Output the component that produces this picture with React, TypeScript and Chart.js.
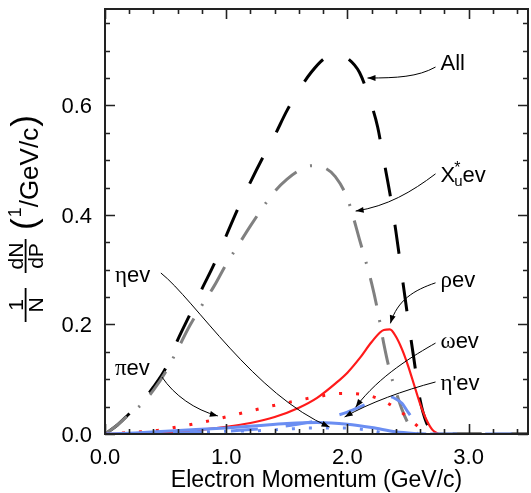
import React, { useEffect, useRef } from "react";
import { Chart, registerables } from "chart.js";

Chart.register(...registerables);

// ---------------- data ----------------
const allX = [0, 0.1, 0.2, 0.3, 0.4, 0.5, 0.6, 0.7, 0.8, 0.9, 1.0, 1.1, 1.2, 1.3, 1.4, 1.5, 1.6, 1.7, 1.8, 1.9, 2.0, 2.1, 2.2, 2.25, 2.3, 2.35, 2.4, 2.45, 2.5, 2.55, 2.6, 2.65, 2.7, 2.75, 3.5];
const allY = [0, 0.016, 0.037, 0.058, 0.086, 0.12, 0.172, 0.218, 0.265, 0.31, 0.362, 0.413, 0.46, 0.504, 0.545, 0.59, 0.628, 0.66, 0.684, 0.695, 0.686, 0.66, 0.6, 0.56, 0.5, 0.44, 0.37, 0.29, 0.21, 0.135, 0.062, 0.022, 0.005, 0, 0];

const xuX = [0, 0.1, 0.2, 0.3, 0.4, 0.5, 0.6, 0.7, 0.8, 0.9, 1.0, 1.1, 1.2, 1.3, 1.4, 1.5, 1.6, 1.7, 1.8, 1.9, 2.0, 2.1, 2.2, 2.25, 2.3, 2.35, 2.4, 2.45, 2.5, 2.55, 2.6, 3.5];
const xuY = [0, 0.016, 0.036, 0.054, 0.08, 0.113, 0.155, 0.198, 0.235, 0.27, 0.31, 0.345, 0.38, 0.413, 0.443, 0.465, 0.481, 0.49, 0.487, 0.47, 0.43, 0.355, 0.275, 0.225, 0.165, 0.115, 0.078, 0.045, 0.02, 0.005, 0, 0];

const rhoX = [0, 0.5, 0.8, 1.0, 1.2, 1.4, 1.6, 1.75, 1.9, 2.0, 2.1, 2.2, 2.3, 2.35, 2.4, 2.45, 2.5, 2.55, 2.6, 2.65, 2.7, 2.75];
const rhoY = [0, 0.003, 0.008, 0.013, 0.02, 0.031, 0.048, 0.066, 0.092, 0.112, 0.138, 0.168, 0.19, 0.191, 0.178, 0.155, 0.125, 0.09, 0.055, 0.027, 0.008, 0];

const piX = [0, 0.15, 0.3, 0.45, 0.6, 0.75, 0.9, 1.05, 1.2, 1.35, 1.5, 1.65, 1.8, 1.95, 2.1, 2.25, 2.4, 2.5, 2.6, 2.65];
const piY = [0, 0.002, 0.004, 0.007, 0.013, 0.019, 0.026, 0.034, 0.042, 0.05, 0.057, 0.064, 0.07, 0.074, 0.073, 0.065, 0.047, 0.03, 0.01, 0];

const etaX = [0, 0.25, 0.5, 0.75, 1.0, 1.25, 1.5, 1.75, 2.0, 2.2, 2.4, 2.55, 2.65];
const etaY = [0, 0.002, 0.005, 0.008, 0.011, 0.015, 0.019, 0.021, 0.018, 0.012, 0.004, 0.001, 0];

const omegaX = [0, 0.5, 1.0, 1.2, 1.4, 1.6, 1.8, 1.9, 2.0, 2.1, 2.2, 2.3, 2.35, 2.4, 2.45, 2.5, 2.55, 2.6, 2.65, 2.7, 3.5];
const omegaY = [0, 0.001, 0.005, 0.008, 0.012, 0.018, 0.027, 0.033, 0.04, 0.049, 0.059, 0.067, 0.068, 0.064, 0.056, 0.04, 0.025, 0.012, 0.003, 0, 0];

const etapX = [0, 0.5, 1.0, 1.25, 1.5, 1.7, 1.85, 2.0, 2.1, 2.2, 2.3, 2.35];
const etapY = [0, 0.002, 0.005, 0.006, 0.009, 0.011, 0.011, 0.011, 0.009, 0.006, 0.002, 0];

const xTicks = [0, 1, 2, 3];
const yTicks = [0, 0.2, 0.4, 0.6];
const xRange = [0, 3.49];
const yRange = [0, 0.776];
const xMinorStep = 0.2;
const yMinorStep = 0.05;

// annotation anchors (data units): label anchor + arrow bezier [start, cp1, cp2, end]
const annotations = [
  { key: "All", at: [2.768, 0.665], arrow: [[2.727, 0.67], [2.58, 0.652], [2.41, 0.65], [2.166, 0.65]] },
  { key: "Xu", at: [2.768, 0.46], arrow: [[2.727, 0.475], [2.53, 0.442], [2.33, 0.416], [2.068, 0.407]] },
  { key: "eta", at: [0.082, 0.278], arrow: [[0.461, 0.294], [0.74, 0.245], [1.236, 0.071], [1.853, 0.0128]] },
  { key: "pi", at: [0.082, 0.108], arrow: [[0.47, 0.104], [0.57, 0.071], [0.74, 0.044], [0.931, 0.033]] },
  { key: "rho", at: [2.768, 0.268], arrow: [[2.727, 0.276], [2.553, 0.263], [2.413, 0.245], [2.355, 0.202]] },
  { key: "omega", at: [2.768, 0.157], arrow: [[2.727, 0.166], [2.553, 0.144], [2.265, 0.107], [2.068, 0.049]] },
  { key: "etap", at: [2.768, 0.08], arrow: [[2.727, 0.095], [2.47, 0.08], [2.18, 0.057], [1.977, 0.031]] },
];

const SANS = '"Liberation Sans", Arial, Helvetica, sans-serif';
const SERIF = '"Liberation Serif", "DejaVu Serif", serif';
const BLUE = "#6b8ef2";
const RED = "#ff1a1a";
const GREY = "#808080";
const FRAME = "#222222";

function pts(xs: number[], ys: number[]) {
  return xs.map((x, i) => ({ x, y: ys[i] }));
}

type Seg = { t: string; font: string; dy?: number };

function drawSegs(ctx: CanvasRenderingContext2D, segs: Seg[], x: number, y: number) {
  let cx = x;
  for (const s of segs) {
    ctx.font = s.font;
    ctx.fillText(s.t, cx, y + (s.dy || 0));
    cx += ctx.measureText(s.t).width;
  }
}

const labelSegs: Record<string, Seg[]> = {
  All: [{ t: "All", font: `22px ${SANS}` }],
  eta: [{ t: "η", font: `23px ${SERIF}` }, { t: "ev", font: `22px ${SANS}` }],
  pi: [{ t: "π", font: `23px ${SERIF}` }, { t: "ev", font: `22px ${SANS}` }],
  rho: [{ t: "ρ", font: `23px ${SERIF}` }, { t: "ev", font: `22px ${SANS}` }],
  omega: [{ t: "ω", font: `23px ${SERIF}` }, { t: "ev", font: `22px ${SANS}` }],
  etap: [{ t: "η", font: `23px ${SERIF}` }, { t: "'", font: `20px ${SANS}` }, { t: "ev", font: `22px ${SANS}` }],
};

const framePlugin = {
  id: "framePlugin",
  afterDatasetsDraw(chart: any) {
    const ctx: CanvasRenderingContext2D = chart.ctx;
    const xs = chart.scales.x;
    const ys = chart.scales.y;
    const { left, right, top, bottom } = chart.chartArea;
    const px = (v: number) => xs.getPixelForValue(v);
    const py = (v: number) => ys.getPixelForValue(v);
    ctx.save();

    // ticks
    ctx.strokeStyle = FRAME;
    ctx.lineWidth = 1.6;
    const nX = Math.round((xRange[1] - xRange[0]) / xMinorStep);
    for (let i = 0; i <= nX; i++) {
      const v = xRange[0] + i * xMinorStep;
      if (v > xRange[1] + 1e-9) break;
      const major = xTicks.some((t) => Math.abs(t - v) < 1e-6);
      const len = major ? 10 : 5;
      const p = Math.round(px(v)) + 0.5;
      ctx.beginPath();
      ctx.moveTo(p, bottom);
      ctx.lineTo(p, bottom - len);
      ctx.moveTo(p, top);
      ctx.lineTo(p, top + len);
      ctx.stroke();
    }
    const nY = Math.round((yRange[1] - yRange[0]) / yMinorStep);
    for (let i = 0; i <= nY; i++) {
      const v = yRange[0] + i * yMinorStep;
      if (v > yRange[1] + 1e-9) break;
      const major = yTicks.some((t) => Math.abs(t - v) < 1e-6);
      const len = major ? 10 : 5;
      const p = Math.round(py(v)) + 0.5;
      ctx.beginPath();
      ctx.moveTo(left, p);
      ctx.lineTo(left + len, p);
      ctx.moveTo(right, p);
      ctx.lineTo(right - len, p);
      ctx.stroke();
    }
    // frame
    ctx.lineWidth = 2;
    ctx.strokeRect(left, top, right - left, bottom - top);

    // tick labels (from the Chart.js scale ticks)
    ctx.fillStyle = "#000";
    ctx.font = `22px ${SANS}`;
    ctx.textBaseline = "alphabetic";
    ctx.textAlign = "center";
    for (const t of xs.ticks) {
      ctx.fillText(Number(t.value).toFixed(1), px(t.value), 464);
    }
    ctx.textAlign = "right";
    for (const t of ys.ticks) {
      ctx.fillText(Number(t.value).toFixed(1), left - 13, py(t.value) + 8);
    }

    // arrows
    ctx.strokeStyle = "#000";
    ctx.fillStyle = "#000";
    ctx.lineWidth = 1;
    for (const a of annotations) {
      const [p0, p1, p2, p3] = a.arrow.map(([x, y]) => [px(x), py(y)]);
      ctx.beginPath();
      ctx.moveTo(p0[0], p0[1]);
      ctx.bezierCurveTo(p1[0], p1[1], p2[0], p2[1], p3[0], p3[1]);
      ctx.stroke();
      const ang = Math.atan2(p3[1] - p2[1], p3[0] - p2[0]);
      const L = 8, Wd = 3;
      ctx.beginPath();
      ctx.moveTo(p3[0], p3[1]);
      ctx.lineTo(p3[0] - L * Math.cos(ang) + Wd * Math.sin(ang), p3[1] - L * Math.sin(ang) - Wd * Math.cos(ang));
      ctx.lineTo(p3[0] - L * Math.cos(ang) - Wd * Math.sin(ang), p3[1] - L * Math.sin(ang) + Wd * Math.cos(ang));
      ctx.closePath();
      ctx.fill();
    }

    // labels
    ctx.textAlign = "left";
    ctx.textBaseline = "alphabetic";
    ctx.fillStyle = "#000";
    for (const a of annotations) {
      const x = px(a.at[0]);
      const y = py(a.at[1]);
      if (a.key === "Xu") {
        ctx.font = `22px ${SANS}`;
        ctx.fillText("X", x, y);
        const wX = ctx.measureText("X").width;
        ctx.font = `16px ${SANS}`;
        ctx.fillText("*", x + wX - 1, y - 9);
        ctx.font = `15px ${SANS}`;
        ctx.fillText("u", x + wX - 1, y + 4);
        const wu = ctx.measureText("u").width;
        ctx.font = `22px ${SANS}`;
        ctx.fillText("ev", x + wX - 1 + wu, y);
      } else {
        drawSegs(ctx, labelSegs[a.key], x, y);
      }
    }

    // x axis title
    ctx.font = `23px ${SANS}`;
    ctx.textAlign = "center";
    ctx.fillText("Electron Momentum (GeV/c)", (left + right) / 2, 487);

    // y axis title (rotated, reads bottom -> top)
    ctx.save();
    ctx.rotate(-Math.PI / 2);
    const T = (s: string, sx: number, sy: number, font: string, align: CanvasTextAlign = "center") => {
      ctx.font = font;
      ctx.textAlign = align;
      ctx.fillText(s, -sy, sx);
      return ctx.measureText(s).width;
    };
    const fr = (num: string, den: string, cy: number, half: number) => {
      T(num, 23, cy, `21px ${SANS}`);
      T(den, 43, cy, `21px ${SANS}`);
      ctx.fillRect(-(cy + half), 24.7, 2 * half, 1.8);
    };
    fr("1", "N", 305, 17);
    fr("dN", "dP", 256, 17);
    // ( 1/GeV/c )
    let s = 230;
    s -= T("(", 36, s, `35px ${SANS}`, "left") + 1;
    s -= T("1", 21, s, `18px ${SANS}`, "left");
    s -= T("/GeV/c", 38, s, `26px ${SANS}`, "left") + 1;
    T(")", 36, s, `35px ${SANS}`, "left");
    ctx.restore();

    ctx.restore();
  },
};

export default function App() {
  const ref = useRef<HTMLCanvasElement | null>(null);
  useEffect(() => {
    if (!ref.current) return;
    const common = { pointRadius: 0, fill: false, cubicInterpolationMode: "monotone" as const, borderCapStyle: "butt" as const };
    const chart = new Chart(ref.current, {
      type: "line",
      data: {
        datasets: [
          { label: "η' e ν", data: pts(etapX, etapY), borderColor: BLUE, borderWidth: 3, borderDash: [3, 14], order: 1, ...common },
          { label: "ω e ν", data: pts(omegaX, omegaY), borderColor: BLUE, borderWidth: 3, borderDash: [27, 28], borderDashOffset: -16, order: 2, ...common },
          { label: "η e ν", data: pts(etaX, etaY), borderColor: BLUE, borderWidth: 3, order: 3, ...common },
          { label: "ρ e ν", data: pts(rhoX, rhoY), borderColor: RED, borderWidth: 2.2, order: 4, ...common },
          { label: "π e ν", data: pts(piX, piY), borderColor: RED, borderWidth: 3, borderDash: [3, 14], order: 5, ...common },
          { label: "X_u* e ν", data: pts(xuX, xuY), borderColor: GREY, borderWidth: 3, borderDash: [28, 15, 2, 15], order: 6, ...common },
          { label: "All", data: pts(allX, allY), borderColor: "#000", borderWidth: 3, borderDash: [29, 29], borderDashOffset: 55, order: 7, ...common },
        ],
      },
      options: {
        responsive: false,
        animation: false,
        layout: { padding: { top: 9, right: 3, left: 0, bottom: 0 } },
        plugins: { legend: { display: false }, tooltip: { enabled: false }, title: { display: false } },
        scales: {
          x: {
            type: "linear",
            min: xRange[0],
            max: xRange[1],
            afterBuildTicks: (s: any) => {
              s.ticks = xTicks.map((v) => ({ value: v }));
            },
            afterFit: (s: any) => {
              s.height = 59;
              s.paddingLeft = 0;
              s.paddingRight = 0;
            },
            ticks: { display: false },
            grid: { display: false, drawTicks: false },
            border: { display: false },
          },
          y: {
            type: "linear",
            min: yRange[0],
            max: yRange[1],
            afterBuildTicks: (s: any) => {
              s.ticks = yTicks.map((v) => ({ value: v }));
            },
            afterFit: (s: any) => {
              s.width = 105;
              s.paddingTop = 0;
              s.paddingBottom = 0;
            },
            ticks: { display: false },
            grid: { display: false, drawTicks: false },
            border: { display: false },
          },
        },
      },
      plugins: [framePlugin],
    });
    return () => chart.destroy();
  }, []);
  return (
    <div style={{ position: "absolute", left: 0, top: 0, width: 531, height: 493, background: "#fff" }}>
      <canvas ref={ref} width={531} height={493} style={{ display: "block", width: 531, height: 493 }} />
    </div>
  );
}
